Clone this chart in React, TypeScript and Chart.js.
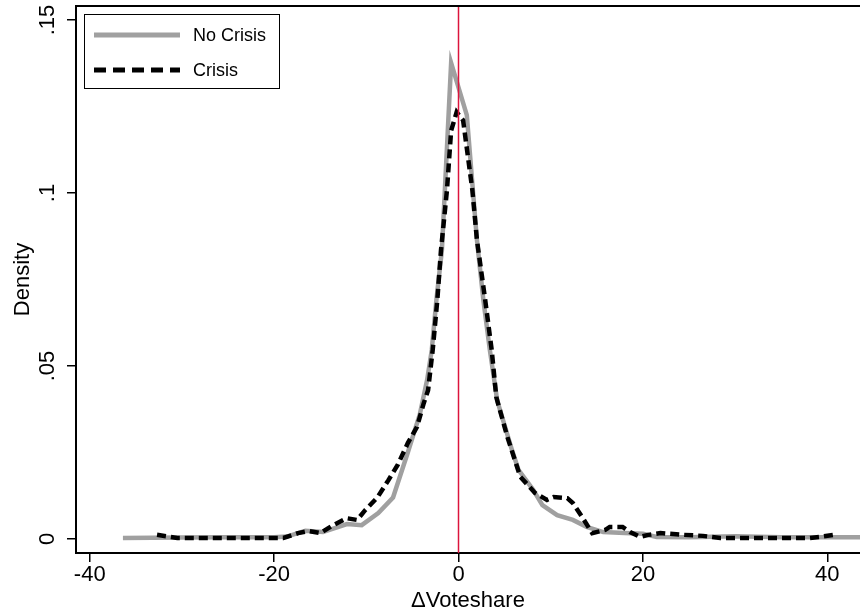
import { useEffect, useRef } from 'react';
import { Chart, registerables } from 'chart.js';

Chart.register(...registerables);

const noCrisisLabel = 'No Crisis';
const crisisLabel = 'Crisis';

const noCrisisX = [-36.4, -30, -25, -20, -18.6, -16.6, -14.7, -12.1, -10.5, -8.7, -7.1, -5.5, -4.2, -3.4, -2.9, -2.4, -1.8, -0.8, 0.9, 2.0, 2.7, 3.4, 4.2, 5.8, 6.5, 8.1, 9.1, 10.7, 12.4, 13.9, 15.7, 18, 20, 21.5, 25, 30, 35, 40, 43.6];
const noCrisisY = [0.0003, 0.0004, 0.0005, 0.0005, 0.0007, 0.0024, 0.002, 0.0043, 0.004, 0.0075, 0.012, 0.025, 0.036, 0.046, 0.0546, 0.069, 0.0835, 0.1376, 0.1225, 0.0864, 0.069, 0.0546, 0.040, 0.0257, 0.020, 0.0142, 0.0098, 0.0069, 0.0055, 0.0035, 0.002, 0.0017, 0.0015, 0.0006, 0.0005, 0.0008, 0.0005, 0.0005, 0.0005];

const crisisX = [-32.7, -30.5, -27, -24, -21, -19, -17.4, -16.3, -15, -13.6, -12.1, -11, -10.1, -8.8, -7.6, -6.6, -5.5, -4.5, -3.8, -3.3, -2.8, -2.3, -1.9, -1.25, -0.8, -0.2, 0.5, 1.5, 2.0, 2.9, 3.6, 4.1, 5.3, 6.7, 8.3, 9.6, 10.3, 11.8, 12.4, 13.4, 14.5, 15.9, 16.4, 17.8, 18.6, 19.7, 20.6, 21.9, 24.4, 26.5, 28.4, 32, 36, 38.1, 39.2, 40.8];
const crisisY = [0.0012, 0.0003, 0.0003, 0.0003, 0.0003, 0.0003, 0.0017, 0.0023, 0.0017, 0.004, 0.006, 0.0055, 0.0084, 0.012, 0.017, 0.0214, 0.0277, 0.0324, 0.039, 0.043, 0.0546, 0.069, 0.0835, 0.1009, 0.118, 0.1234, 0.121, 0.1009, 0.0864, 0.069, 0.0546, 0.041, 0.0295, 0.018, 0.0133, 0.0113, 0.0121, 0.0118, 0.0104, 0.0064, 0.0017, 0.0026, 0.0035, 0.0035, 0.002, 0.0006, 0.0012, 0.0017, 0.0012, 0.0009, 0.0003, 0.0003, 0.0003, 0.0003, 0.0006, 0.0012];

const xTickValues = [-40, -20, 0, 20, 40];
const xTickLabels = ['-40', '-20', '0', '20', '40'];
const yTickValues = [0, 0.05, 0.1, 0.15];
const yTickLabels = ['0', '.05', '.1', '.15'];

const xTitle = '\u0394Voteshare';
const yTitle = 'Density';
const refLineX = 0;

const FONT = '"Liberation Sans", Arial, Helvetica, sans-serif';
const GREY = '#a0a0a0';
const RED = '#dc143c';

export default function App() {
  const ref = useRef<HTMLCanvasElement | null>(null);

  useEffect(() => {
    const canvas = ref.current;
    if (!canvas) return;

    const framePlugin = {
      id: 'frameAndRef',
      afterDatasetsDraw(chart: any) {
        const { ctx, chartArea, scales } = chart;
        ctx.save();
        const px = scales.x.getPixelForValue(refLineX);
        ctx.strokeStyle = RED;
        ctx.lineWidth = 1.5;
        ctx.beginPath();
        ctx.moveTo(px, chartArea.top);
        ctx.lineTo(px, chartArea.bottom);
        ctx.stroke();
        ctx.strokeStyle = '#000';
        ctx.lineWidth = 2;
        ctx.beginPath();
        ctx.moveTo(chartArea.left, chartArea.top);
        ctx.lineTo(chartArea.right, chartArea.top);
        ctx.stroke();
        ctx.restore();
      },
      afterDraw(chart: any) {
        const { ctx, chartArea } = chart;
        const ds = chart.data.datasets;
        const bx = chartArea.left + 8;
        const by = chartArea.top + 8;
        const bw = 195;
        const bh = 74;
        ctx.save();
        ctx.fillStyle = '#fff';
        ctx.fillRect(bx, by, bw, bh);
        ctx.strokeStyle = '#000';
        ctx.lineWidth = 1;
        ctx.strokeRect(bx + 0.5, by + 0.5, bw, bh);
        const rows = [by + 21, by + 56];
        ds.forEach((d: any, i: number) => {
          const yy = rows[i];
          ctx.strokeStyle = d.borderColor;
          ctx.lineWidth = i === 1 ? 5 : 5;
          ctx.setLineDash(i === 1 ? [12, 7] : []);
          ctx.beginPath();
          ctx.moveTo(bx + 10, yy);
          ctx.lineTo(bx + 96, yy);
          ctx.stroke();
          ctx.setLineDash([]);
          ctx.fillStyle = '#000';
          ctx.font = '18px ' + FONT;
          ctx.textBaseline = 'middle';
          ctx.textAlign = 'left';
          ctx.fillText(d.label, bx + 109, yy + 1);
        });
        ctx.restore();
      },
    };

    const chart = new Chart(canvas, {
      type: 'line',
      data: {
        datasets: [
          {
            label: noCrisisLabel,
            data: noCrisisX.map((x, i) => ({ x, y: noCrisisY[i] })),
            borderColor: GREY,
            borderWidth: 4.5,
            pointRadius: 0,
            tension: 0,
            fill: false,
            order: 1,
          },
          {
            label: crisisLabel,
            data: crisisX.map((x, i) => ({ x, y: crisisY[i] })),
            borderColor: '#000',
            borderWidth: 4.5,
            borderDash: [9, 5],
            pointRadius: 0,
            tension: 0,
            fill: false,
            order: 0,
          },
        ],
      },
      plugins: [framePlugin],
      options: {
        animation: false,
        responsive: false,
        devicePixelRatio: 1,
        layout: { padding: { top: 6, right: 0, left: 0, bottom: 0 } },
        plugins: { legend: { display: false }, tooltip: { enabled: false } },
        scales: {
          x: {
            type: 'linear',
            min: -41.49,
            max: 43.55,
            afterBuildTicks: (s: any) => {
              s.ticks = xTickValues.map((v) => ({ value: v }));
            },
            afterFit: (s: any) => {
              s.height = 61;
              s.paddingLeft = 0;
              s.paddingRight = 0;
            },
            grid: { display: true, drawOnChartArea: false, drawTicks: true, tickLength: 9, color: '#000', lineWidth: 1.5 },
            border: { display: true, color: '#000', width: 2 },
            ticks: {
              color: '#000',
              font: { family: FONT, size: 22 },
              padding: 0,
              maxRotation: 0,
              minRotation: 0,
              callback: (_v: any, i: number) => xTickLabels[i],
            },
            title: {
              display: true,
              text: xTitle,
              color: '#000',
              font: { family: FONT, size: 22, lineHeight: 1.2 },
              padding: { top: 0, bottom: 0 },
            },
          },
          y: {
            type: 'linear',
            min: -0.00405,
            max: 0.15405,
            afterBuildTicks: (s: any) => {
              s.ticks = yTickValues.map((v) => ({ value: v }));
            },
            afterFit: (s: any) => {
              s.width = 76;
              s.paddingTop = 0;
              s.paddingBottom = 0;
            },
            grid: { display: true, drawOnChartArea: false, drawTicks: true, tickLength: 9, color: '#000', lineWidth: 1.5 },
            border: { display: true, color: '#000', width: 2 },
            ticks: {
              color: '#000',
              font: { family: FONT, size: 22 },
              padding: 4,
              minRotation: 90,
              maxRotation: 90,
              crossAlign: 'center',
              callback: (_v: any, i: number) => yTickLabels[i],
            },
            title: {
              display: true,
              text: yTitle,
              color: '#000',
              font: { family: FONT, size: 22, lineHeight: 1.2 },
              padding: { top: 10, bottom: 0 },
            },
          },
        },
      } as any,
    });

    return () => chart.destroy();
  }, []);

  return (
    <canvas
      ref={ref}
      width={860}
      height={614}
      style={{ position: 'absolute', left: 0, top: 0, width: 860, height: 614 }}
    />
  );
}
